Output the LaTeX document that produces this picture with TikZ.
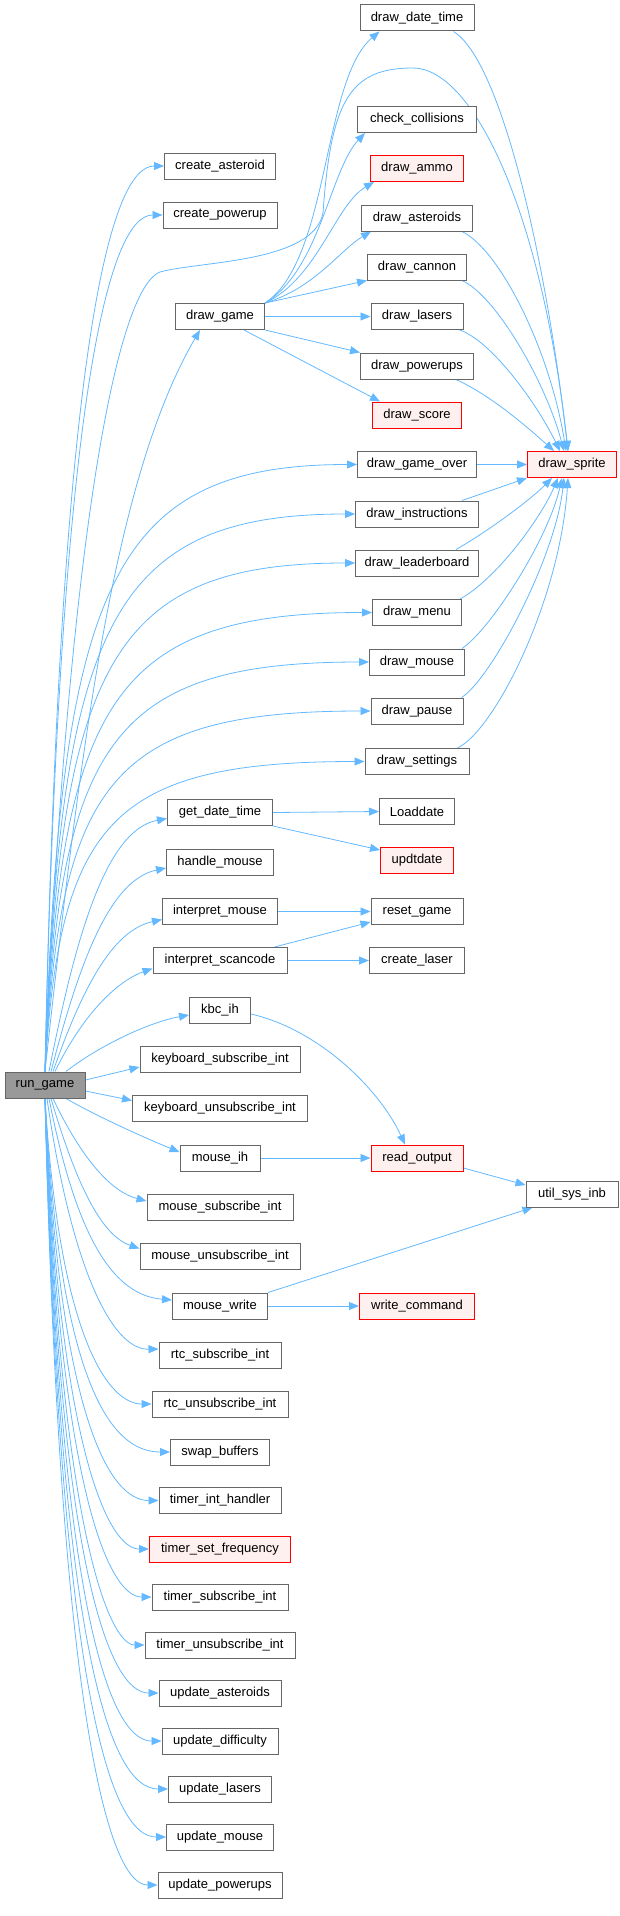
\documentclass[tikz,border=0pt]{standalone}
\usepackage{fontspec}
\setmainfont{Liberation Sans}
\usetikzlibrary{arrows.meta,calc,backgrounds}
\definecolor{edgeblue}{RGB}{99,184,255}
\definecolor{boxgray} {RGB}{102,102,102}
\definecolor{rootgray}{RGB}{153,153,153}
\definecolor{redfill} {RGB}{255,240,240}

\begin{document}
\begin{tikzpicture}[
  x=1pt, y=1pt,
  font=\fontsize{13}{15}\selectfont,
  fn/.style    ={draw=boxgray, fill=white, line width=1pt,
                 minimum height=26pt, inner xsep=2pt, inner ysep=0pt},
  fnred/.style ={fn, draw=red, fill=redfill},
  fnroot/.style={fn, fill=rootgray},
  call/.style  ={draw=edgeblue, line width=0.8pt,
                 -{Triangle[length=10pt,width=8pt]}},
  fan/.style={to path={let \p1=(\tikztostart), \p2=(\tikztotarget) in
     .. controls ({\x1+15pt},{\y2+0.2*(\y1-\y2)}) and ({\x1+65pt},\y2)
     .. (\tikztotarget)}},
]
\useasboundingbox (0,0) rectangle (620,-1916);

%-- caller
\node[fnroot, minimum width=80pt] (run) at (45,-1085) {run\_game};

%-- first column of callees
\node[fn, minimum width=111pt] (cast)     at (220,-166)    {create\_asteroid};
\node[fn, minimum width=114pt] (cpow)     at (220,-215)    {create\_powerup};
\node[fn, minimum width=89pt]  (dgame)    at (220,-316.5)  {draw\_game};
\node[fn, minimum width=105pt] (gdt)      at (220,-812.5)  {get\_date\_time};
\node[fn, minimum width=107pt] (hmouse)   at (220,-862)    {handle\_mouse};
\node[fn, minimum width=115pt] (imouse)   at (220,-911.5)  {interpret\_mouse};
\node[fn, minimum width=134pt] (iscan)    at (220,-960.5)  {interpret\_scancode};
\node[fn, minimum width=61pt]  (kbcih)    at (220,-1010)   {kbc\_ih};
\node[fn, minimum width=160pt] (kbsub)    at (220,-1059)   {keyboard\_subscribe\_int};
\node[fn, minimum width=175pt] (kbunsub)  at (220,-1108.5) {keyboard\_unsubscribe\_int};
\node[fn, minimum width=80pt]  (mih)      at (220,-1158)   {mouse\_ih};
\node[fn, minimum width=146pt] (msub)     at (220,-1207)   {mouse\_subscribe\_int};
\node[fn, minimum width=160pt] (munsub)   at (220,-1256.5) {mouse\_unsubscribe\_int};
\node[fn, minimum width=95pt]  (mwrite)   at (220,-1306)   {mouse\_write};
\node[fn, minimum width=122pt] (rtcsub)   at (220,-1355)   {rtc\_subscribe\_int};
\node[fn, minimum width=136pt] (rtcunsub) at (220,-1404)   {rtc\_unsubscribe\_int};
\node[fn, minimum width=99pt]  (swap)     at (220,-1452)   {swap\_buffers};
\node[fn, minimum width=122pt] (tih)      at (220,-1500.5) {timer\_int\_handler};
\node[fnred, minimum width=141pt] (tsf)   at (220,-1549)   {timer\_set\_frequency};
\node[fn, minimum width=136pt] (tsub)     at (220,-1597)   {timer\_subscribe\_int};
\node[fn, minimum width=150pt] (tunsub)   at (220,-1645)   {timer\_unsubscribe\_int};
\node[fn, minimum width=122pt] (uast)     at (220,-1693)   {update\_asteroids};
\node[fn, minimum width=116pt] (udiff)    at (220,-1741)   {update\_difficulty};
\node[fn, minimum width=103pt] (ulas)     at (220,-1789)   {update\_lasers};
\node[fn, minimum width=107pt] (umouse)   at (220,-1837)   {update\_mouse};
\node[fn, minimum width=124pt] (upow)     at (220,-1885)   {update\_powerups};

%-- second column
\node[fn, minimum width=114pt] (ddt)      at (417,-18)     {draw\_date\_time};
\node[fn, minimum width=119pt] (ccol)     at (417,-119.5)  {check\_collisions};
\node[fnred, minimum width=93pt] (dammo)  at (417,-168.5)  {draw\_ammo};
\node[fn, minimum width=111pt] (dast)     at (417,-218)    {draw\_asteroids};
\node[fn, minimum width=99pt]  (dcan)     at (417,-267)    {draw\_cannon};
\node[fn, minimum width=92pt]  (dlas)     at (417,-316.5)  {draw\_lasers};
\node[fn, minimum width=113pt] (dpow)     at (417,-366)    {draw\_powerups};
\node[fnred, minimum width=89pt] (dscore) at (417,-415)    {draw\_score};
\node[fn, minimum width=119pt] (dgo)      at (417,-464.5)  {draw\_game\_over};
\node[fn, minimum width=123pt] (dins)     at (417,-514)    {draw\_instructions};
\node[fn, minimum width=123pt] (dlead)    at (417,-563)    {draw\_leaderboard};
\node[fn, minimum width=89pt]  (dmenu)    at (417,-612.5)  {draw\_menu};
\node[fn, minimum width=95pt]  (dmouse)   at (417,-662)    {draw\_mouse};
\node[fn, minimum width=92pt]  (dpause)   at (417,-711)    {draw\_pause};
\node[fn, minimum width=104pt] (dset)     at (417,-761.5)  {draw\_settings};
\node[fn, minimum width=75pt]  (load)     at (417,-811.5)  {Loaddate};
\node[fnred, minimum width=73pt] (upd)    at (417,-860.5)  {updtdate};
\node[fn, minimum width=92pt]  (reset)    at (417,-911.5)  {reset\_game};
\node[fn, minimum width=95pt]  (claser)   at (417,-960.5)  {create\_laser};
\node[fnred, minimum width=92pt] (rout)   at (417,-1158)   {read\_output};
\node[fnred, minimum width=115pt] (wcmd)  at (417,-1306)   {write\_command};

%-- third column
\node[fnred, minimum width=89pt] (dsprite) at (572,-464.5) {draw\_sprite};
\node[fn, minimum width=92pt]    (usys)    at (572,-1194)  {util\_sys\_inb};

\begin{scope}[on background layer]
%-- run_game, upwards
\draw[call] (run.north) to[fan] (cast.west);
\draw[call] (run.north) to[fan] (cpow.west);
\draw[call] (run.north) .. controls (83,-722) and (117,-472) .. ([xshift=-20pt]dgame.south);
\draw[call] (run.north) .. controls (65,-600) and (110,-292) .. (160,-272)
  .. controls (200,-261) and (313,-263) .. (323,-213)
  .. controls (331,-100) and (350,-68) .. (413,-68)
  .. controls (470,-68) and (540,-200) .. ([xshift=-4pt]dsprite.north);
\draw[call] (run.north) to[fan] (dgo.west);
\draw[call] (run.north) to[fan] (dins.west);
\draw[call] (run.north) to[fan] (dlead.west);
\draw[call] (run.north) to[fan] (dmenu.west);
\draw[call] (run.north) to[fan] (dmouse.west);
\draw[call] (run.north) to[fan] (dpause.west);
\draw[call] (run.north) to[fan] (dset.west);
\draw[call] ([xshift=4pt]run.north) .. controls (75,-940) and (105,-830) .. ([yshift=-6pt]gdt.west);
\draw[call] ([xshift=6pt]run.north) .. controls (80,-960) and (110,-880) .. ([yshift=-6pt]hmouse.west);
\draw[call] ([xshift=8pt]run.north) .. controls (85,-980) and (115,-930) .. ([yshift=-8pt]imouse.west);
\draw[call] ([xshift=10pt]run.north) .. controls (85,-1010) and (120,-980) .. ([yshift=-8pt]iscan.west);
\draw[call] ([xshift=21pt]run.north) .. controls (100,-1045) and (150,-1022) .. ([yshift=-5pt]kbcih.west);
\draw[call] ([yshift=5pt]run.east) -- ([yshift=-8pt]kbsub.west);
\draw[call] ([yshift=-6pt]run.east) -- ([yshift=8pt]kbunsub.west);

%-- run_game, downwards
\draw[call] ([xshift=21pt]run.south) .. controls (100,-1118) and (150,-1140) .. ([yshift=6pt]mih.west);
\draw[call] ([xshift=8pt]run.south) .. controls (75,-1145) and (105,-1190) .. ([yshift=6pt]msub.west);
\draw[call] ([xshift=6pt]run.south) .. controls (75,-1180) and (100,-1235) .. ([yshift=8pt]munsub.west);
\draw[call] ([xshift=4pt]run.south) .. controls (75,-1230) and (110,-1295) .. ([yshift=6pt]mwrite.west);
\draw[call] ([xshift=2pt]run.south) .. controls (70,-1260) and (110,-1350) .. ([yshift=6pt]rtcsub.west);
\draw[call] (run.south) to[fan] (rtcunsub.west);
\draw[call] (run.south) to[fan] (swap.west);
\draw[call] (run.south) to[fan] (tih.west);
\draw[call] (run.south) to[fan] (tsf.west);
\draw[call] (run.south) to[fan] (tsub.west);
\draw[call] (run.south) to[fan] (tunsub.west);
\draw[call] (run.south) to[fan] (uast.west);
\draw[call] (run.south) to[fan] (udiff.west);
\draw[call] (run.south) to[fan] (ulas.west);
\draw[call] (run.south) to[fan] (umouse.west);
\draw[call] (run.south) to[fan] (upow.west);

%-- draw_game
\draw[call] (dgame.north east) .. controls (330,-260) and (322,-80) .. ([xshift=20pt]ddt.south west);
\draw[call] (dgame.north east) .. controls (320,-270) and (330,-170) .. ([xshift=8pt]ccol.south west);
\draw[call] (dgame.north east) .. controls (318,-278) and (335,-205) .. ([xshift=4pt]dammo.south west);
\draw[call] (dgame.north east) .. controls (315,-288) and (340,-250) .. ([xshift=10pt]dast.south west);
\draw[call] (dgame.north east) -- (dcan.south west);
\draw[call] (dgame.east) -- (dlas.west);
\draw[call] (dgame.south east) -- (dpow.north west);
\draw[call] ([xshift=-21pt]dgame.south east) -- ([xshift=8pt]dscore.north west);

%-- into draw_sprite
\draw[call] ([xshift=-21pt]ddt.south east) .. controls (500,-60) and (545,-250) .. ([xshift=-4pt]dsprite.north);
\draw[call] ([xshift=-11pt]dast.south east) .. controls (500,-250) and (550,-350) .. ([xshift=-6pt]dsprite.north);
\draw[call] ([xshift=-5pt]dcan.south east) .. controls (495,-295) and (545,-380) .. ([xshift=-8pt]dsprite.north);
\draw[call] ([xshift=-4pt]dlas.south east) .. controls (490,-340) and (535,-400) .. ([xshift=-12pt]dsprite.north);
\draw[call] ([xshift=-18pt]dpow.south east) .. controls (490,-395) and (525,-425) .. ([xshift=-18pt]dsprite.north);
\draw[call] (dgo.east) -- (dsprite.west);
\draw[call] ([xshift=-17pt]dins.north east) -- (dsprite.south west);
\draw[call] ([xshift=-23pt]dlead.north east) .. controls (490,-530) and (530,-500) .. ([xshift=-20pt]dsprite.south);
\draw[call] ([xshift=-2pt]dmenu.north east) .. controls (495,-580) and (540,-520) .. ([xshift=-14pt]dsprite.south);
\draw[call] ([xshift=-3pt]dmouse.north east) .. controls (490,-630) and (548,-540) .. ([xshift=-10pt]dsprite.south);
\draw[call] ([xshift=-2pt]dpause.north east) .. controls (490,-680) and (555,-560) .. ([xshift=-8pt]dsprite.south);
\draw[call] ([xshift=-12pt]dset.north east) .. controls (495,-730) and (560,-600) .. ([xshift=-4pt]dsprite.south);

%-- the rest
\draw[call] (gdt.east) -- (load.west);
\draw[call] (gdt.south east) -- ([yshift=-3pt]upd.north west);
\draw[call] (imouse.east) -- (reset.west);
\draw[call] ([xshift=-13pt]iscan.north east) -- ([yshift=3pt]reset.south west);
\draw[call] (iscan.east) -- (claser.west);
\draw[call] ([yshift=-4pt]kbcih.east) .. controls (320,-1030) and (380,-1090) .. ([xshift=-12pt]rout.north);
\draw[call] (mih.east) -- (rout.west);
\draw[call] ([yshift=-10pt]rout.east) -- ([yshift=9pt]usys.west);
\draw[call] (mwrite.north east) -- ([xshift=7pt]usys.south west);
\draw[call] (mwrite.east) -- (wcmd.west);
\end{scope}

\end{tikzpicture}
\end{document}
